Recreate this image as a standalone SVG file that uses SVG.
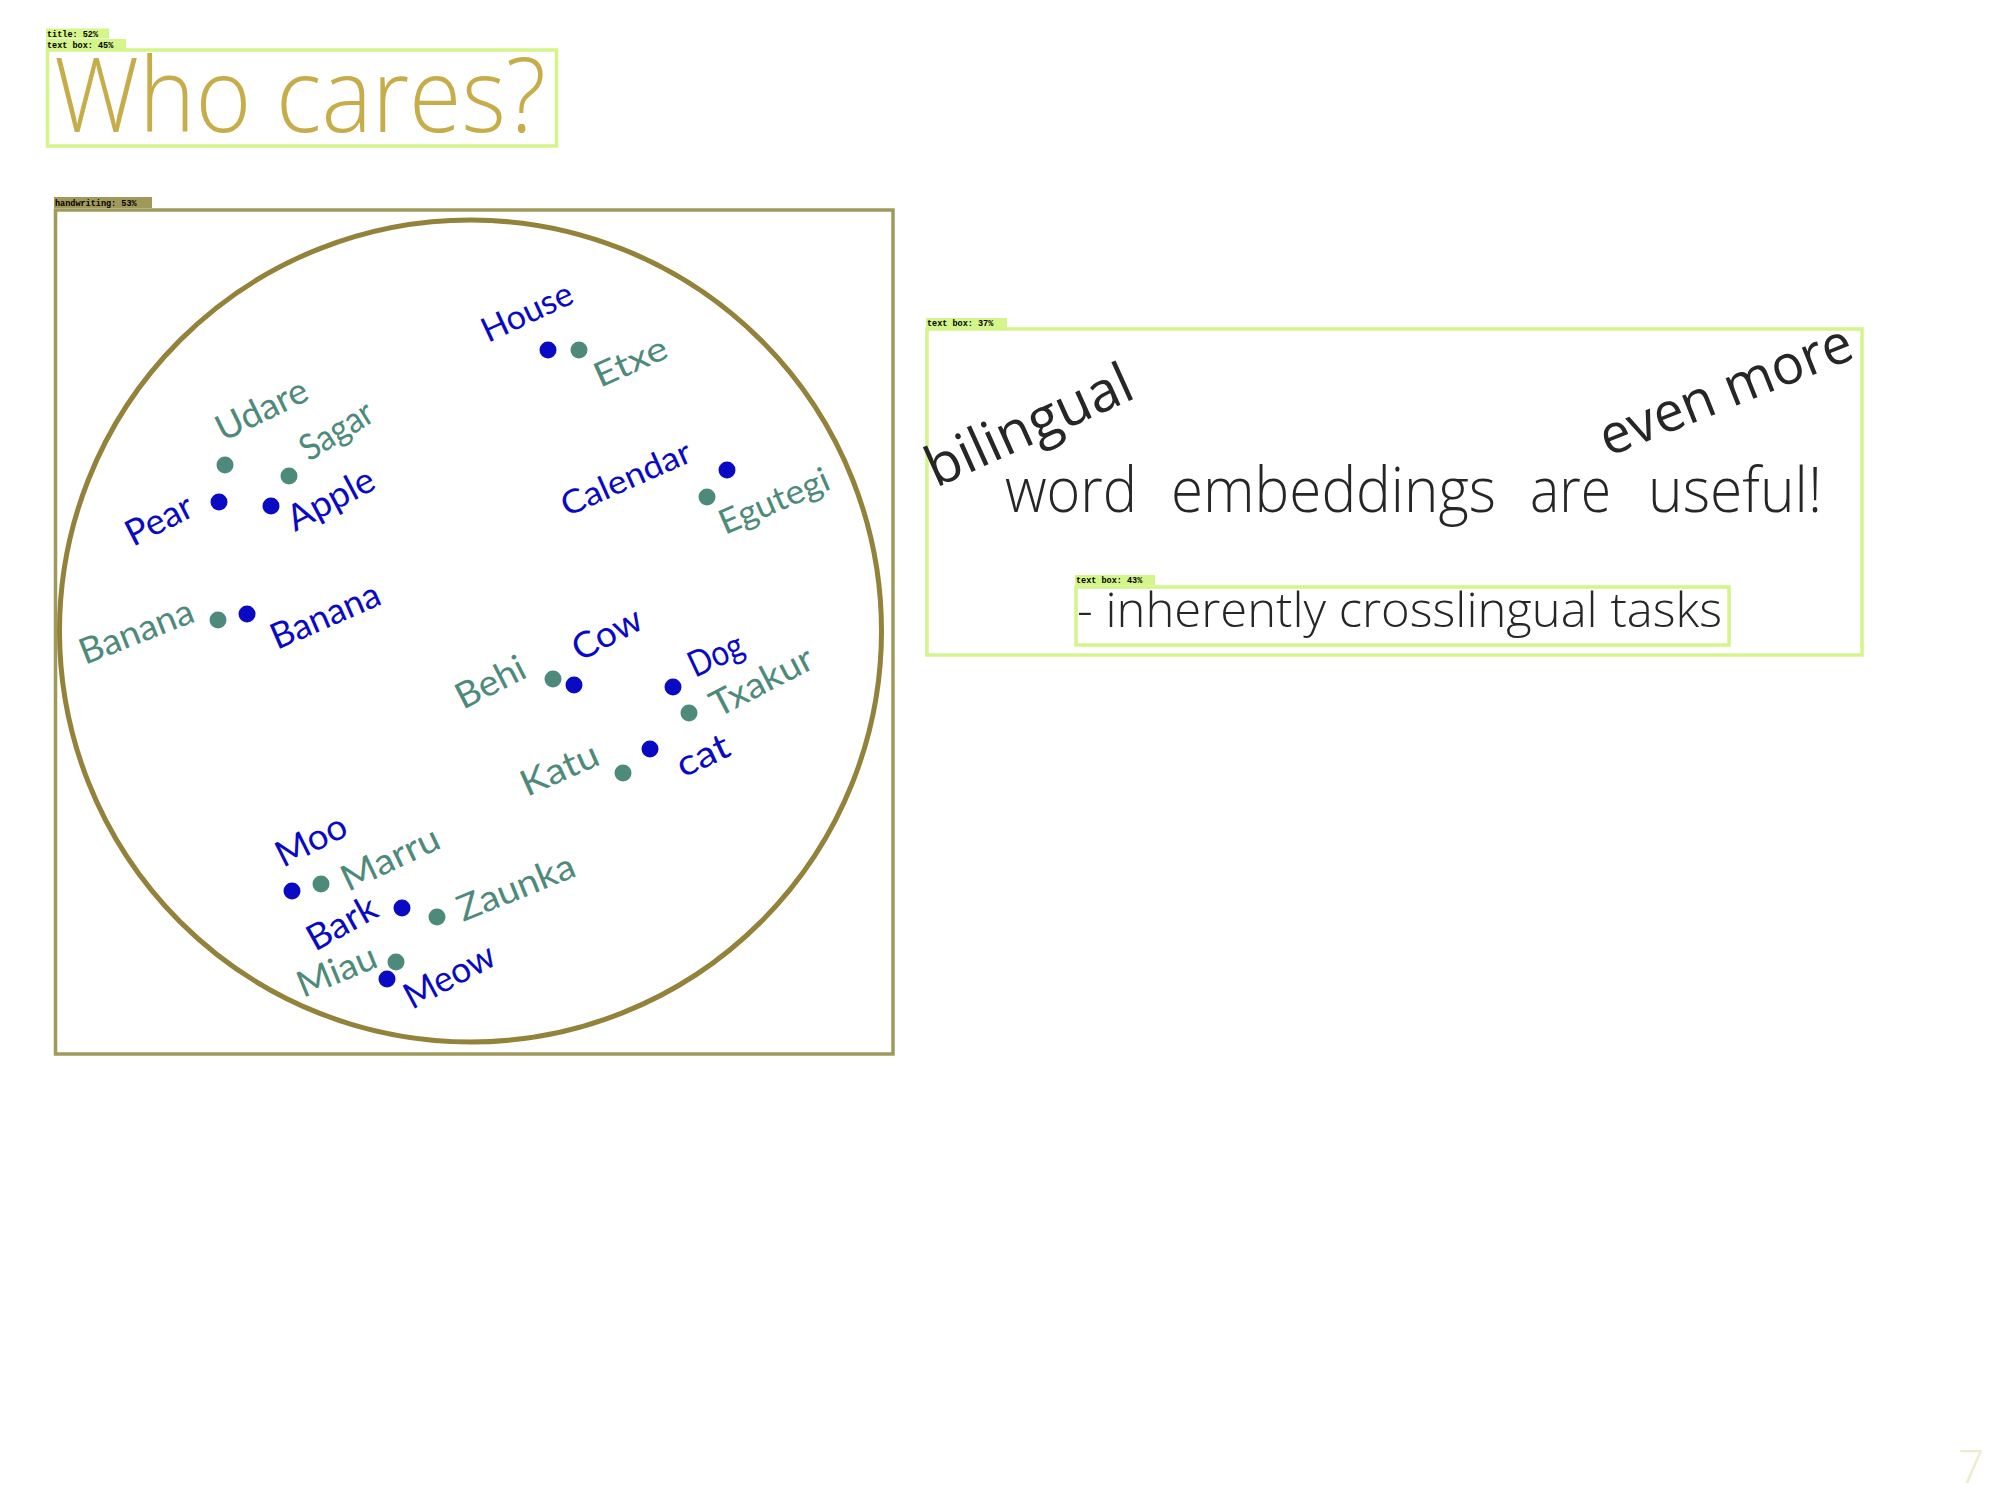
<svg xmlns="http://www.w3.org/2000/svg" width="2000" height="1500" viewBox="0 0 2000 1500">
  <style>
    .tag { font-family: "Liberation Mono", monospace; font-size: 8.5px; font-weight: bold; fill: #000; }
    .lime { fill: none; stroke: #d4f58a; stroke-width: 3.5; }
    .limebg { fill: #d4f58a; }
    .olive { fill: none; stroke: #a09a5a; stroke-width: 3.5; }
    .olivebg { fill: #a09a5a; }
    .hw { font-family: Lato, "Open Sans", sans-serif; font-size: 36px; }
    .en { fill: #0a0ac4; }
    .eu { fill: #4e8a7b; }
    .den { fill: #0a0ac4; }
    .deu { fill: #4e8a7b; }
    .body { font-family: "Open Sans", "Liberation Sans", sans-serif; fill: #262626; }
  </style>

  <rect width="2000" height="1500" fill="#ffffff"/>

  <!-- title -->
  <g id="title">
    <rect class="lime" x="47.5" y="50" width="509" height="96"/>
    <rect class="limebg" x="46" y="28.5" width="63" height="10"/>
    <text class="tag" x="47" y="36.5">title: 52%</text>
    <rect class="limebg" x="46" y="39" width="80" height="10"/>
    <text class="tag" x="47" y="47.5">text box: 45%</text>
    <text x="54" y="132" font-family="'Open Sans', 'Liberation Sans', sans-serif" font-weight="300" font-size="104" fill="#c6ad4a" textLength="492" lengthAdjust="spacingAndGlyphs">Who cares?</text>
  </g>

  <!-- handwriting panel: embedding space sketch -->
  <g id="handwriting">
    <rect class="olive" x="55.5" y="210" width="837.5" height="844"/>
    <rect class="olivebg" x="54" y="197" width="98" height="11"/>
    <text class="tag" x="55" y="205.5">handwriting: 53%</text>
    <circle cx="470.5" cy="631" r="411" fill="none" stroke="#93823a" stroke-width="5"/>
  </g>

  <!-- word points -->
  <g id="points">
    <circle class="den" cx="548" cy="350" r="8.5"/>
    <circle class="den" cx="727" cy="470" r="8.5"/>
    <circle class="den" cx="219" cy="502" r="8.5"/>
    <circle class="den" cx="271" cy="506" r="8.5"/>
    <circle class="den" cx="247" cy="614" r="8.5"/>
    <circle class="den" cx="574" cy="685" r="8.5"/>
    <circle class="den" cx="673" cy="687" r="8.5"/>
    <circle class="den" cx="650" cy="749" r="8.5"/>
    <circle class="den" cx="292" cy="891" r="8.5"/>
    <circle class="den" cx="402" cy="908" r="8.5"/>
    <circle class="den" cx="387" cy="979" r="8.5"/>
    <circle class="deu" cx="579" cy="350" r="8.5"/>
    <circle class="deu" cx="707" cy="497" r="8.5"/>
    <circle class="deu" cx="225" cy="465" r="8.5"/>
    <circle class="deu" cx="289" cy="476" r="8.5"/>
    <circle class="deu" cx="218" cy="620" r="8.5"/>
    <circle class="deu" cx="553" cy="679" r="8.5"/>
    <circle class="deu" cx="689" cy="713" r="8.5"/>
    <circle class="deu" cx="623" cy="773" r="8.5"/>
    <circle class="deu" cx="321" cy="884" r="8.5"/>
    <circle class="deu" cx="437" cy="917" r="8.5"/>
    <circle class="deu" cx="396" cy="962" r="8.5"/>
  </g>

  <!-- word labels -->
  <g id="labels" class="hw">
    <text class="en" transform="translate(488,343) rotate(-25)" font-size="34" textLength="97" lengthAdjust="spacingAndGlyphs">House</text>
    <text class="eu" transform="translate(600,388) rotate(-24)" font-size="34" textLength="77" lengthAdjust="spacingAndGlyphs">Etxe</text>
    <text class="en" transform="translate(567,517) rotate(-24)" font-size="33" textLength="139" lengthAdjust="spacingAndGlyphs">Calendar</text>
    <text class="eu" transform="translate(725,535) rotate(-23.5)" font-size="34" textLength="117" lengthAdjust="spacingAndGlyphs">Egutegi</text>
    <text class="eu" transform="translate(223,442) rotate(-26)" textLength="98" lengthAdjust="spacingAndGlyphs">Udare</text>
    <text class="eu" transform="translate(309,462) rotate(-32)" textLength="80" lengthAdjust="spacingAndGlyphs">Sagar</text>
    <text class="en" transform="translate(133,547) rotate(-27)" textLength="71" lengthAdjust="spacingAndGlyphs">Pear</text>
    <text class="en" transform="translate(295,532) rotate(-28)" textLength="94" lengthAdjust="spacingAndGlyphs">Apple</text>
    <text class="eu" transform="translate(85,665) rotate(-21.5)" textLength="120" lengthAdjust="spacingAndGlyphs">Banana</text>
    <text class="en" transform="translate(277,650) rotate(-23.5)" textLength="116" lengthAdjust="spacingAndGlyphs">Banana</text>
    <text class="eu" transform="translate(463,710) rotate(-27)" textLength="74" lengthAdjust="spacingAndGlyphs">Behi</text>
    <text class="en" transform="translate(580,662) rotate(-28)" textLength="74" lengthAdjust="spacingAndGlyphs">Cow</text>
    <text class="en" transform="translate(695,678) rotate(-25)" textLength="57" lengthAdjust="spacingAndGlyphs">Dog</text>
    <text class="eu" transform="translate(718,718) rotate(-27.5)" textLength="111" lengthAdjust="spacingAndGlyphs">Txakur</text>
    <text class="eu" transform="translate(527,797) rotate(-24)" textLength="82" lengthAdjust="spacingAndGlyphs">Katu</text>
    <text class="en" transform="translate(683,778) rotate(-25)" textLength="55" lengthAdjust="spacingAndGlyphs">cat</text>
    <text class="en" transform="translate(283,868) rotate(-26.5)" textLength="75" lengthAdjust="spacingAndGlyphs">Moo</text>
    <text class="eu" transform="translate(348,892) rotate(-25.3)" textLength="105" lengthAdjust="spacingAndGlyphs">Marru</text>
    <text class="en" transform="translate(315,952) rotate(-29)" textLength="75" lengthAdjust="spacingAndGlyphs">Bark</text>
    <text class="eu" transform="translate(463,922) rotate(-22)" textLength="124" lengthAdjust="spacingAndGlyphs">Zaunka</text>
    <text class="eu" transform="translate(303,998) rotate(-22.4)" textLength="83" lengthAdjust="spacingAndGlyphs">Miau</text>
    <text class="en" transform="translate(412,1010) rotate(-28.3)" textLength="98" lengthAdjust="spacingAndGlyphs">Meow</text>
  </g>

  <!-- right-hand statement -->
  <g id="statement">
    <rect class="lime" x="927" y="329" width="935" height="326"/>
    <rect class="limebg" x="926" y="318" width="81" height="10"/>
    <text class="tag" x="927" y="326">text box: 37%</text>
    <text class="body" transform="translate(936,488) rotate(-24.3)" font-size="56" textLength="221" lengthAdjust="spacingAndGlyphs">bilingual</text>
    <text class="body" transform="translate(1608,457) rotate(-21.8)" font-size="55" textLength="268" lengthAdjust="spacingAndGlyphs">even more</text>
    <g font-weight="300" font-size="62">
      <text class="body" x="1005" y="512" textLength="132" lengthAdjust="spacingAndGlyphs">word</text>
      <text class="body" x="1171" y="512" textLength="325" lengthAdjust="spacingAndGlyphs">embeddings</text>
      <text class="body" x="1530" y="512" textLength="81" lengthAdjust="spacingAndGlyphs">are</text>
      <text class="body" x="1648" y="512" textLength="174" lengthAdjust="spacingAndGlyphs">useful!</text>
    </g>
  </g>

  <g id="subpoint">
    <rect class="lime" x="1076" y="587" width="653" height="58"/>
    <rect class="limebg" x="1075" y="575" width="80" height="10"/>
    <text class="tag" x="1076" y="583">text box: 43%</text>
    <text class="body" x="1077" y="627" font-weight="300" font-size="48" textLength="645" lengthAdjust="spacingAndGlyphs">- inherently crosslingual tasks</text>
  </g>

  <!-- slide number -->
  <text x="1958" y="1483" font-family="'Open Sans', sans-serif" font-weight="300" font-size="46" fill="#ecebcc">7</text>
</svg>
